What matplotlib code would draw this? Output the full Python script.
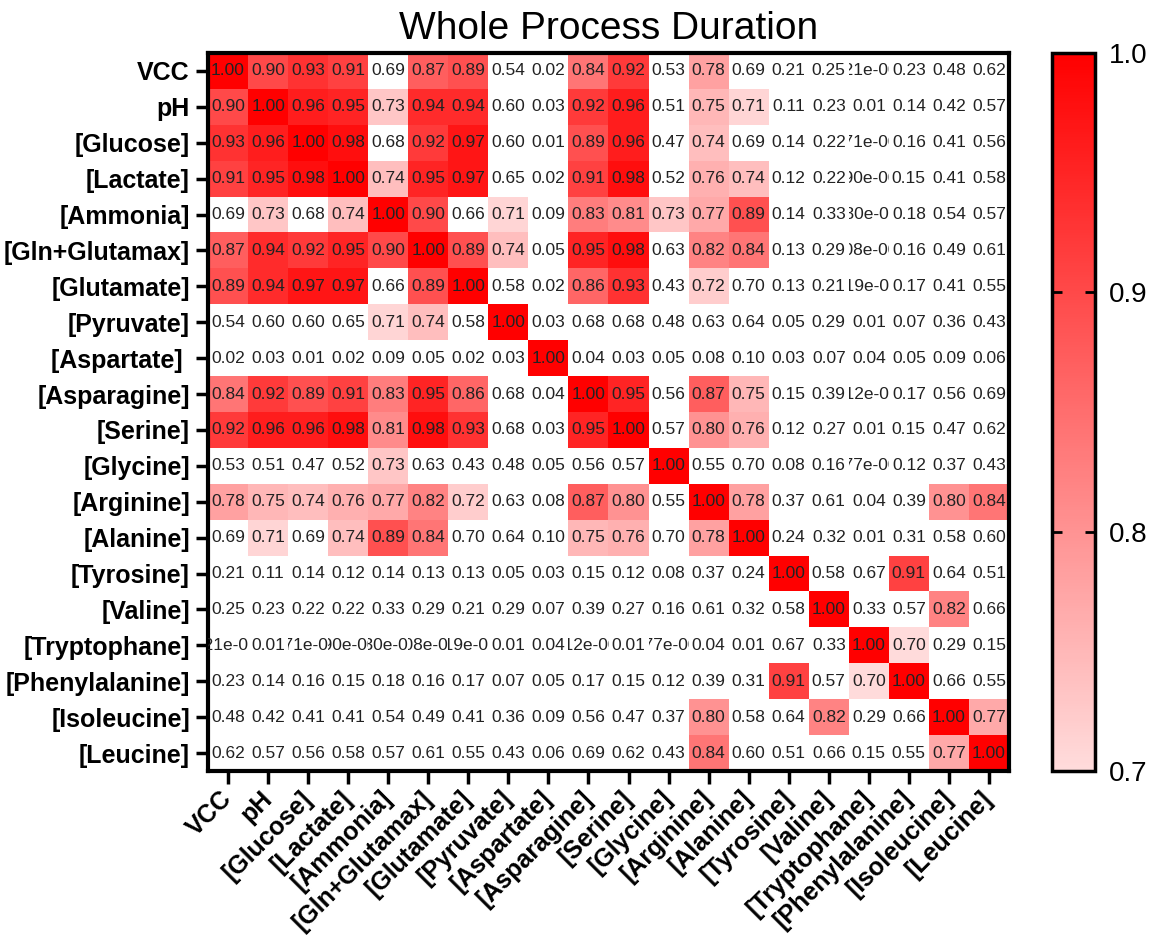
import numpy as np
import matplotlib
matplotlib.use("Agg")
import matplotlib.pyplot as plt
from matplotlib.colors import LinearSegmentedColormap, Normalize
from matplotlib.patches import Rectangle

plt.rcParams['font.family'] = ['Liberation Sans', 'DejaVu Sans']

labels_y = ["VCC", "pH", "[Glucose]", "[Lactate]", "[Ammonia]", "[Gln+Glutamax]",
            "[Glutamate]", "[Pyruvate]", "[Aspartate] ", "[Asparagine]", "[Serine]",
            "[Glycine]", "[Arginine]", "[Alanine]", "[Tyrosine]", "[Valine]",
            "[Tryptophane]", "[Phenylalanine]", "[Isoleucine]", "[Leucine]"]
labels_x = [s.strip() for s in labels_y]

r_vcc  = [1.00, 0.90, 0.93, 0.91, 0.69, 0.87, 0.89, 0.54, 0.02, 0.84, 0.92, 0.53, 0.78, 0.69, 0.21, 0.25, 5.21e-3, 0.23, 0.48, 0.62]
r_ph   = [0.90, 1.00, 0.96, 0.95, 0.73, 0.94, 0.94, 0.60, 0.03, 0.92, 0.96, 0.51, 0.75, 0.71, 0.11, 0.23, 0.012, 0.14, 0.42, 0.57]
r_glc  = [0.93, 0.96, 1.00, 0.98, 0.68, 0.92, 0.97, 0.60, 0.01, 0.89, 0.96, 0.47, 0.74, 0.69, 0.14, 0.22, 3.71e-3, 0.16, 0.41, 0.56]
r_lac  = [0.91, 0.95, 0.98, 1.00, 0.74, 0.95, 0.97, 0.65, 0.02, 0.91, 0.98, 0.52, 0.76, 0.74, 0.12, 0.22, 4.90e-3, 0.15, 0.41, 0.58]
r_amm  = [0.69, 0.73, 0.68, 0.74, 1.00, 0.90, 0.66, 0.71, 0.09, 0.83, 0.81, 0.73, 0.77, 0.89, 0.14, 0.33, 2.30e-3, 0.18, 0.54, 0.57]
r_gln  = [0.87, 0.94, 0.92, 0.95, 0.90, 1.00, 0.89, 0.74, 0.05, 0.95, 0.98, 0.63, 0.82, 0.84, 0.13, 0.29, 3.08e-3, 0.16, 0.49, 0.61]
r_glu  = [0.89, 0.94, 0.97, 0.97, 0.66, 0.89, 1.00, 0.58, 0.02, 0.86, 0.93, 0.43, 0.72, 0.698, 0.13, 0.21, 6.19e-3, 0.17, 0.41, 0.55]
r_pyr  = [0.54, 0.60, 0.60, 0.65, 0.71, 0.74, 0.58, 1.00, 0.03, 0.68, 0.68, 0.48, 0.63, 0.64, 0.05, 0.29, 0.011, 0.07, 0.36, 0.43]
r_asp  = [0.02, 0.03, 0.01, 0.02, 0.09, 0.05, 0.02, 0.03, 1.00, 0.04, 0.03, 0.05, 0.08, 0.10, 0.03, 0.07, 0.04, 0.05, 0.09, 0.06]
r_asn  = [0.84, 0.92, 0.89, 0.91, 0.83, 0.95, 0.86, 0.68, 0.04, 1.00, 0.95, 0.56, 0.87, 0.75, 0.15, 0.39, 7.12e-3, 0.17, 0.56, 0.69]
r_ser  = [0.92, 0.96, 0.96, 0.98, 0.81, 0.98, 0.93, 0.68, 0.03, 0.95, 1.00, 0.57, 0.80, 0.76, 0.12, 0.27, 0.012, 0.15, 0.47, 0.62]
r_gly  = [0.53, 0.51, 0.47, 0.52, 0.73, 0.63, 0.43, 0.48, 0.05, 0.56, 0.57, 1.00, 0.55, 0.698, 0.08, 0.16, 1.77e-3, 0.12, 0.37, 0.43]
r_arg  = [0.78, 0.75, 0.74, 0.76, 0.77, 0.82, 0.72, 0.63, 0.08, 0.87, 0.80, 0.55, 1.00, 0.78, 0.37, 0.61, 0.04, 0.39, 0.80, 0.84]
r_ala  = [0.69, 0.71, 0.69, 0.74, 0.89, 0.84, 0.698, 0.64, 0.10, 0.75, 0.76, 0.698, 0.78, 1.00, 0.24, 0.32, 0.012, 0.31, 0.58, 0.60]
r_tyr  = [0.21, 0.11, 0.14, 0.12, 0.14, 0.13, 0.13, 0.05, 0.03, 0.15, 0.12, 0.08, 0.37, 0.24, 1.00, 0.58, 0.67, 0.91, 0.64, 0.51]
r_val  = [0.25, 0.23, 0.22, 0.22, 0.33, 0.29, 0.21, 0.29, 0.07, 0.39, 0.27, 0.16, 0.61, 0.32, 0.58, 1.00, 0.33, 0.57, 0.82, 0.66]
r_trp  = [5.21e-3, 0.012, 3.71e-3, 4.90e-3, 2.30e-3, 3.08e-3, 6.19e-3, 0.011, 0.04, 7.12e-3, 0.012, 1.77e-3, 0.04, 0.012, 0.67, 0.33, 1.00, 0.702, 0.29, 0.15]
r_phe  = [0.23, 0.14, 0.16, 0.15, 0.18, 0.16, 0.17, 0.07, 0.05, 0.17, 0.15, 0.12, 0.39, 0.31, 0.91, 0.57, 0.702, 1.00, 0.66, 0.55]
r_ile  = [0.48, 0.42, 0.41, 0.41, 0.54, 0.49, 0.41, 0.36, 0.09, 0.56, 0.47, 0.37, 0.80, 0.58, 0.64, 0.82, 0.29, 0.66, 1.00, 0.77]
r_leu  = [0.62, 0.57, 0.56, 0.58, 0.57, 0.61, 0.55, 0.43, 0.06, 0.69, 0.62, 0.43, 0.84, 0.60, 0.51, 0.66, 0.15, 0.55, 0.77, 1.00]

rows = [r_vcc, r_ph, r_glc, r_lac, r_amm, r_gln, r_glu, r_pyr, r_asp, r_asn, r_ser,
        r_gly, r_arg, r_ala, r_tyr, r_val, r_trp, r_phe, r_ile, r_leu]
M = np.array(rows)
n = len(labels_y)


def fmt(v):
    if v < 0.01:
        e = int(np.floor(np.log10(v)))
        m = v / 10 ** e
        return f"{m:.2f}e-{abs(e):03d}"
    return f"{v:.2f}"


W, H = 1156, 935
fig = plt.figure(figsize=(W / 100, H / 100), dpi=100)

cmap = LinearSegmentedColormap.from_list("wr", ["#ffdcdc", "#ff0000"])
cmap.set_under("white")
norm = Normalize(vmin=0.7, vmax=1.0)

ax = fig.add_axes([208 / W, 1 - 771 / H, 801 / W, 718 / H])
im = ax.imshow(M, cmap=cmap, norm=norm, aspect="auto", interpolation="nearest")

for i in range(n):
    for j in range(n):
        t = ax.text(j, i, fmt(M[i, j]), ha="center", va="center", fontsize=12.5,
                    color="#222222", clip_on=True)
        t.set_clip_path(Rectangle((j - 0.5, i - 0.5), 1, 1, transform=ax.transData))

ax.set_xticks(range(n))
ax.set_yticks(range(n))
ax.set_yticklabels(labels_y, fontsize=18, fontweight="bold")
ax.set_xticklabels(labels_x, fontsize=18, fontweight="bold",
                   rotation=45, ha="right", va="center", rotation_mode="anchor")
ax.tick_params(axis="both", length=9, width=2.5, pad=4, direction="out")
ax.tick_params(axis="x", pad=8)
for sp in ax.spines.values():
    sp.set_linewidth(3)
ax.set_title("Whole Process Duration", fontsize=28, pad=10)

cax = fig.add_axes([1052 / W, 1 - 771 / H, 43 / W, 718 / H])
cb = fig.colorbar(im, cax=cax, ticks=[0.7, 0.8, 0.9, 1.0])
cb.ax.set_yticklabels(["0.7", "0.8", "0.9", "1.0"])
cb.ax.tick_params(direction="in", length=7, width=2, labelsize=20, pad=10,
                  left=True, right=True)
cb.outline.set_linewidth(2.5)

fig.savefig("out.png", dpi=100)
